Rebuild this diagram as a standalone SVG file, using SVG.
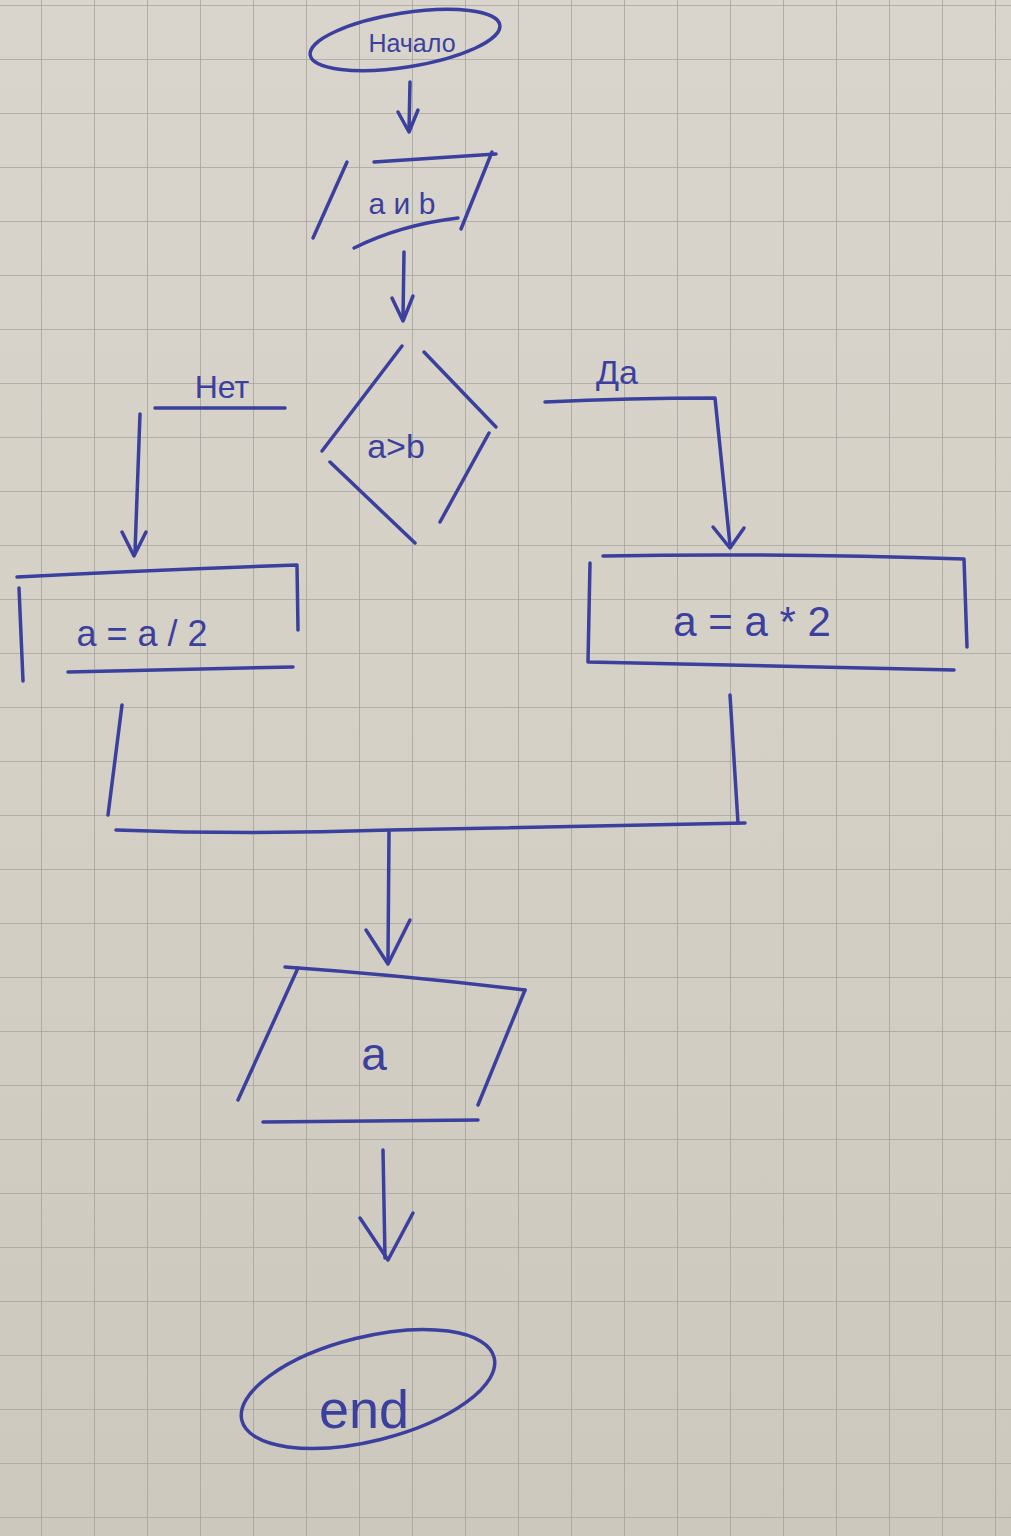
<svg xmlns="http://www.w3.org/2000/svg" width="1011" height="1536" viewBox="0 0 1011 1536">
  <defs>
    <pattern id="grid" x="41" y="5" width="53" height="54" patternUnits="userSpaceOnUse">
      <path d="M0 0 V54 M0 0 H53" fill="none" stroke="#a5a39d" stroke-width="1.6"/>
    </pattern>
    <linearGradient id="paper" x1="0" y1="0" x2="0" y2="1">
      <stop offset="0" stop-color="#d9d5cc"/>
      <stop offset="0.5" stop-color="#d4d0c6"/>
      <stop offset="1" stop-color="#cdc8bd"/>
    </linearGradient>
  </defs>
  <style>
    .ink { fill: none; stroke: #3b3f9e; stroke-width: 3.5; stroke-linecap: round; stroke-linejoin: round; }
    .txt { fill: #3b3f9e; font-family: "Liberation Sans", "DejaVu Sans", sans-serif; text-anchor: middle; }
  </style>

  <rect x="0" y="0" width="1011" height="1536" fill="url(#paper)"/>
  <rect x="0" y="0" width="1011" height="1536" fill="url(#grid)"/>

  <g id="start">
    <ellipse class="ink" cx="405" cy="40" rx="96" ry="27" transform="rotate(-9 405 40)"/>
    <text class="txt" x="412" y="52" font-size="25">Начало</text>
  </g>

  <g id="input">
    <path class="ink" d="M347 162 L313 238"/>
    <path class="ink" d="M374 162 L496 154"/>
    <path class="ink" d="M492 152 L461 229"/>
    <path class="ink" d="M354 248 Q400 225 458 218"/>
    <text class="txt" x="402" y="214" font-size="30">a и b</text>
  </g>

  <g id="decision">
    <path class="ink" d="M402 346 L322 451"/>
    <path class="ink" d="M424 352 L496 427"/>
    <path class="ink" d="M489 433 L440 522"/>
    <path class="ink" d="M330 462 L415 543"/>
    <text class="txt" x="396" y="458" font-size="34">a&gt;b</text>
  </g>

  <g id="proc-no">
    <path class="ink" d="M17 577 Q150 570 297 565 L298 630"/>
    <path class="ink" d="M19 588 L23 681"/>
    <path class="ink" d="M68 672 L293 667"/>
    <text class="txt" x="142" y="646" font-size="36">a = a / 2</text>
  </g>

  <g id="proc-yes">
    <path class="ink" d="M603 556 Q780 553 964 559 L967 647"/>
    <path class="ink" d="M590 563 L588 662 L954 670"/>
    <text class="txt" x="752" y="636" font-size="42">a = a * 2</text>
  </g>

  <g id="output">
    <path class="ink" d="M285 967 Q400 975 525 990"/>
    <path class="ink" d="M298 968 L238 1100"/>
    <path class="ink" d="M525 990 L478 1105"/>
    <path class="ink" d="M263 1122 L478 1120"/>
    <text class="txt" x="374" y="1070" font-size="46">a</text>
  </g>

  <g id="end">
    <ellipse class="ink" cx="368" cy="1389" rx="130" ry="52" transform="rotate(-14 368 1389)"/>
    <text class="txt" x="364" y="1428" font-size="54">end</text>
  </g>

  <g id="connectors">
    <path class="ink" d="M410 82 L409 130"/>
    <path class="ink" d="M398 112 L409 132 L418 110"/>
    <path class="ink" d="M404 252 L403 318"/>
    <path class="ink" d="M392 298 L403 321 L413 296"/>
    <path class="ink" d="M155 408 L285 408"/>
    <path class="ink" d="M140 414 L135 552"/>
    <path class="ink" d="M122 532 L134 556 L146 532"/>
    <text class="txt" x="222" y="398" font-size="32">Нет</text>
    <path class="ink" d="M545 402 Q630 398 715 398 L730 545"/>
    <path class="ink" d="M713 527 L730 548 L744 528"/>
    <text class="txt" x="617" y="384" font-size="34">Да</text>
    <path class="ink" d="M122 705 L108 815"/>
    <path class="ink" d="M730 695 L738 823"/>
    <path class="ink" d="M116 830 Q250 835 390 830 Q560 826 745 823"/>
    <path class="ink" d="M389 832 L388 960"/>
    <path class="ink" d="M366 930 L388 964 L410 920"/>
    <path class="ink" d="M383 1150 L385 1258"/>
    <path class="ink" d="M360 1218 L388 1260 L413 1213"/>
  </g>
</svg>
